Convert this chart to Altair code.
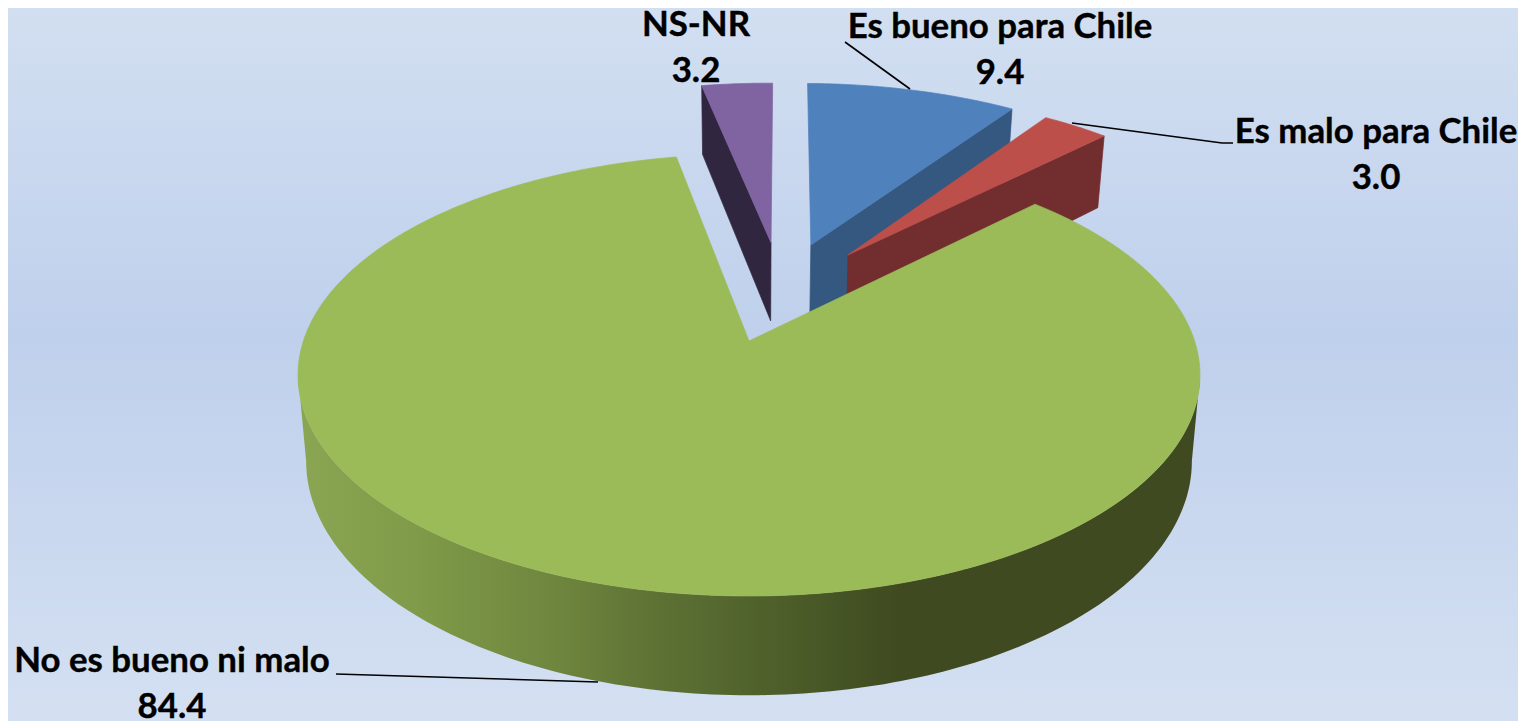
import math
import altair as alt

categories = ["Es bueno para Chile", "Es malo para Chile", "No es bueno ni malo", "NS-NR"]
values = [9.4, 3.0, 84.4, 3.2]
top_colors = ["#4f81bd", "#bd4f4b", "#9bbb59", "#8064a2"]
wall_colors = ["#34587f", "#722d2f", None, "#30263f"]
# exploded position of each slice's apex on the pie plane
offsets = [(0.149, -0.478), (0.2367, -0.4248), (0.0, 0.0), (0.0532, -0.49)]
radii = [0.985, 0.98, 1.0, 0.975]
# which cut edge of the slice faces the viewer: 1 = clockwise end, 0 = start
cut_face = [1, 1, None, 0]
label_x = [1000, 1376, 172, 696]
label_y = [38, 143, 672, 36]
leaders = [
    [(845, 42), (910, 89)],
    [(1072, 123), (1222, 143), (1233, 143)],
    [(336, 674), (598, 682)],
]
wall_stops = [(298, "#8ba653"), (420, "#7f9a48"), (560, "#6e853e"), (650, "#5f7335"),
              (800, "#4a5b28"), (900, "#3f4a20"), (1200, "#3f4a20")]
bg_stops = [(0, "#d2dff1"), (0.46, "#bfd0ec"), (1, "#d4e0f2")]

START_ANGLE = 0.7
CX, CY, A, B, K, DEPTH, SHRINK = 749, 341, 445.6, 215.7, 0.154, 84, 0.982


def project(x, y, low=False):
    w = 1 - K * y
    sx = A * x / w * (SHRINK if low else 1)
    sy = B * y / w + (DEPTH / w if low else 0)
    return [CX + sx, CY + sy]


def rim(i, deg):
    ox, oy = offsets[i]
    t = math.radians(deg)
    return ox + radii[i] * math.sin(t), oy - radii[i] * math.cos(t)


def feature(coords, fill):
    return {"type": "Feature", "properties": {"fill": fill},
            "geometry": {"type": "Polygon", "coordinates": [coords + [coords[0]]]}}


angle = START_ANGLE
spans = []
for v in values:
    spans.append((angle, angle + v * 3.6))
    angle += v * 3.6


def top_face(i):
    a0, a1 = spans[i]
    n = max(4, int((a1 - a0) * 1.5))
    degs = [a0 + (a1 - a0) * j / n for j in range(n + 1)]
    return feature([project(*offsets[i])] + [project(*rim(i, d)) for d in degs], top_colors[i])


back = []
for i in [3, 0, 1]:
    a0, a1 = spans[i]
    ox, oy = offsets[i]
    px, py = rim(i, a1 if cut_face[i] else a0)
    back.append(feature([project(ox, oy), project(px, py),
                         project(px, py, True), project(ox, oy, True)], wall_colors[i]))
    back.append(top_face(i))

# the visible wall runs between the two points of the rim that lie furthest left and right
edge = math.degrees(math.asin(K))
wall_degs = [90 + edge + (180 - 2 * edge) * j / 160 for j in range(161)]
wall_poly = [project(*rim(2, d)) for d in wall_degs] + \
            [project(*rim(2, d), True) for d in reversed(wall_degs)]
green_wall = [feature(wall_poly, "wall")]
green_top = [top_face(2)]

lines = [{"type": "Feature", "properties": {},
          "geometry": {"type": "LineString", "coordinates": [list(p) for p in line]}}
         for line in leaders]

proj = dict(type="identity", scale=1, translate=[-8, -8])

background = alt.Chart(alt.Data(values=[{"a": 1}])).mark_rect(
    color=alt.Gradient(gradient="linear", x1=0, x2=0, y1=0, y2=1,
                       stops=[alt.GradientStop(offset=o, color=c) for o, c in bg_stops])
).encode(x=alt.value(0), x2=alt.value(1510), y=alt.value(0), y2=alt.value(713))


def shapes(data):
    return alt.Chart(alt.Data(values=data)).mark_geoshape(strokeWidth=0.7).encode(
        color=alt.Color("properties.fill:N", scale=None, legend=None),
        stroke=alt.Stroke("properties.fill:N", scale=None, legend=None),
    ).project(**proj)


wall = alt.Chart(alt.Data(values=green_wall)).mark_geoshape(
    fill=alt.Gradient(gradient="linear", x1=0, x2=1, y1=0, y2=0,
                      stops=[alt.GradientStop(offset=(x - wall_stops[0][0]) / (wall_stops[-1][0] - wall_stops[0][0]), color=c)
                             for x, c in wall_stops]),
    stroke=None, strokeWidth=0,
).project(**proj)

leader = alt.Chart(alt.Data(values=lines)).mark_geoshape(
    filled=False, stroke="#000000", strokeWidth=1.6
).project(**proj)

rows = []
for c, v, x, y in zip(categories, values, label_x, label_y):
    rows.append({"t": c, "px": x - 8, "py": y - 8})
    rows.append({"t": f"{v:.1f}", "px": x - 8, "py": y + 46 - 8})

text = alt.Chart(alt.Data(values=rows)).mark_text(
    font="Lato", fontWeight="bold", fontSize=34.8, color="#000000", baseline="alphabetic", align="center",
    stroke="#000000", strokeWidth=0.4,
).encode(
    text="t:N",
    x=alt.X("px:Q", scale=None),
    y=alt.Y("py:Q", scale=None),
)

chart = alt.layer(background, shapes(back), wall, shapes(green_top), leader, text).properties(
    width=1510, height=713, padding=0,
    autosize=alt.AutoSizeParams(type="none"),
).configure_view(stroke=None)

chart.save("out.html", embed_options={"renderer": "svg", "actions": False})
